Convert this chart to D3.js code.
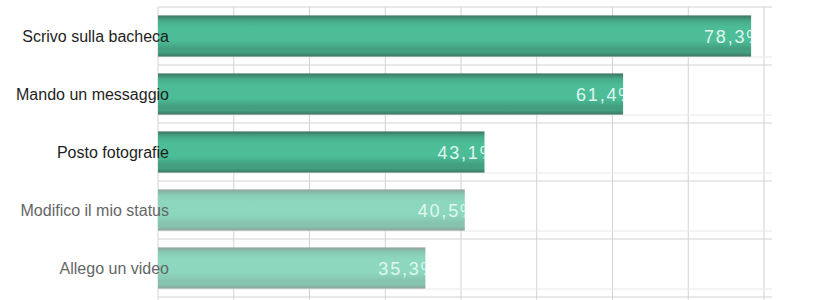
<!DOCTYPE html>
<html lang="it">
<head>
<meta charset="UTF-8">
<title>Bacheca</title>
<script src="https://d3js.org/d3.v7.min.js"></script>
<style>
    body { margin: 0; background: #fff; }
    text { font-family: 'Liberation Sans', Arial, sans-serif; }
    .cat { font-size: 16px; }
    .val { font-size: 18px; letter-spacing: 1.8px; fill: #dff7ee; }
</style>
</head>
<body>
<script>
    const width  = 829;
    const height = 300;

    const categories = ["Scrivo sulla bacheca", "Mando un messaggio", "Posto fotografie", "Modifico il mio status", "Allego un video"];
    const values     = [78.3, 61.4, 43.1, 40.5, 35.3];
    const strong     = [true, true, true, false, false];
    const xTicks     = [0, 10, 20, 30, 40, 50, 60, 70, 80];

    const margin = {top: 7, left: 158};

    const svg = d3.select("body").append("svg").attr("width", width).attr("height", height);

    const x = d3.scaleLinear().domain([0, 80]).range([margin.left, 764]);
    const y = d3.scaleBand().domain(categories).range([margin.top, margin.top + 58 * 5]).paddingInner(0.29).paddingOuter(0.145);

    const defs = svg.append("defs");
    function grad(id, edge, mid, light, stripe) {
        const g = defs.append("linearGradient").attr("id", id).attr("x1", 0).attr("x2", 0).attr("y1", 0).attr("y2", 1);
        [[0, edge], [0.1, mid], [0.14, stripe], [0.3, light], [0.6, light], [0.72, stripe], [0.8, mid], [0.9, mid], [1, edge]]
            .forEach(s => g.append("stop").attr("offset", s[0]).attr("stop-color", s[1]));
    }
    grad("gStrong", "#3d7564", "#439f80", "#4dbd98", "#47ad8b");
    grad("gSoft", "#8ea39c", "#86c4b0", "#8dd7bf", "#8acdb7");

    // grid
    const grid = svg.append("g");
    grid.selectAll("line.v").data(xTicks).join("line")
        .attr("x1", d => x(d)).attr("x2", d => x(d))
        .attr("y1", margin.top).attr("y2", height)
        .attr("stroke", "#d2d2d2");
    const rows = d3.range(categories.length + 1).map(i => margin.top + 58 * i);
    grid.selectAll("line.h").data(rows).join("line")
        .attr("x1", margin.left).attr("x2", 772)
        .attr("y1", d => d).attr("y2", d => d)
        .attr("stroke", "#d2d2d2");
    grid.selectAll("line.h2").data(rows.slice(1)).join("line")
        .attr("x1", margin.left).attr("x2", 772)
        .attr("y1", d => d - 8).attr("y2", d => d - 8)
        .attr("stroke", "#e8e8e8");

    const data = categories.map((c, i) => ({cat: c, val: values[i], strong: strong[i]}));

    data.forEach((d, i) => {
        defs.append("clipPath").attr("id", "clip" + i).append("rect")
            .attr("x", x(0)).attr("y", y(d.cat))
            .attr("width", x(d.val) - x(0)).attr("height", y.bandwidth());
    });

    const bars = svg.append("g").selectAll("g").data(data).join("g");

    bars.append("rect")
        .attr("x", x(0)).attr("y", d => y(d.cat))
        .attr("width", d => x(d.val) - x(0)).attr("height", y.bandwidth())
        .attr("fill", d => d.strong ? "url(#gStrong)" : "url(#gSoft)");

    bars.append("g")
        .attr("clip-path", (d, i) => `url(#clip${i})`)
        .append("text").attr("class", "val")
        .attr("x", d => x(d.val) + 13)
        .attr("y", d => y(d.cat) + y.bandwidth() / 2 + 7)
        .attr("text-anchor", "end")
        .text(d => d3.format(".1f")(d.val).replace(".", ",") + "%");

    svg.append("g").selectAll("text").data(data).join("text").attr("class", "cat")
        .attr("x", 169)
        .attr("y", d => y(d.cat) + y.bandwidth() / 2 + 6)
        .attr("text-anchor", "end")
        .attr("fill", d => d.strong ? "#1e1e1e" : "#666")
        .text(d => d.cat);
</script>
</body>
</html>
